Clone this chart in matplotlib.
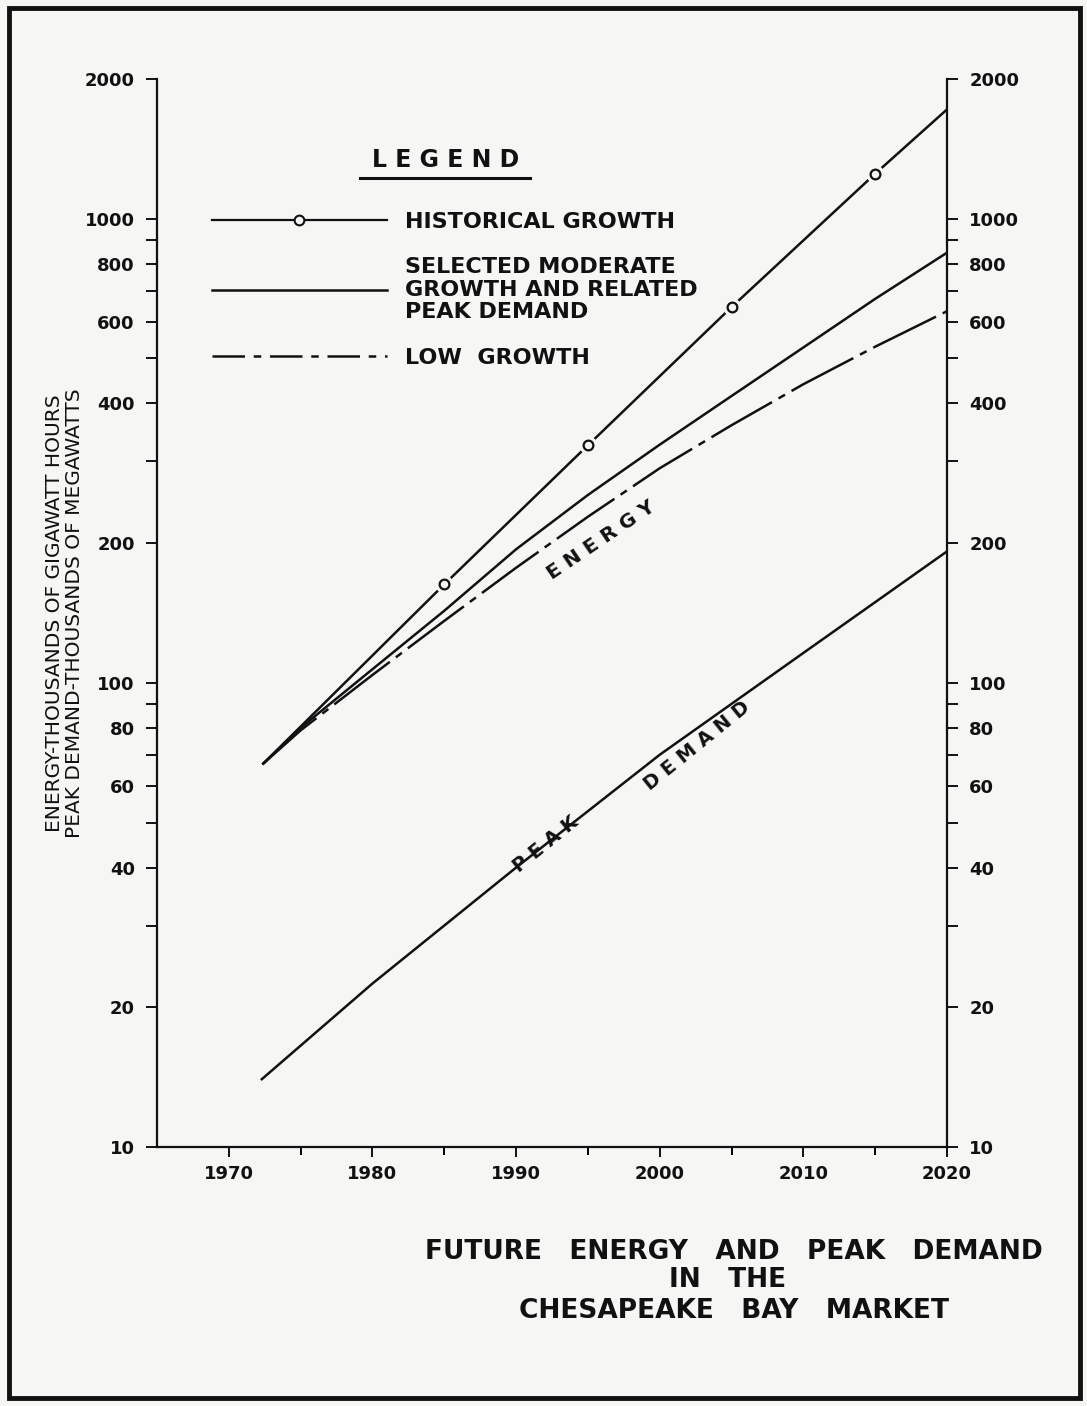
import matplotlib
matplotlib.use("Agg")
import matplotlib.pyplot as plt
from matplotlib.lines import Line2D
from matplotlib.patches import Rectangle

# values (log scale)
hist_years = [1972.4, 1985, 1995, 2005, 2015, 2020]
hist_vals = [67, 163, 325, 645, 1250, 1720]

proj_years = [1972.4, 1975, 1980, 1985, 1990, 1995, 2000, 2005, 2010, 2015, 2020]
moderate_vals = [67, 80, 107, 143, 194, 254, 326, 415, 528, 672, 845]
low_vals = [67, 79, 104, 136, 177, 228, 290, 359, 440, 530, 632]

peak_years = [1972.3, 1980, 1990, 2000, 2010, 2020]
peak_vals = [14, 22.5, 40, 70, 116, 192]

ytick_vals = [10, 20, 30, 40, 50, 60, 70, 80, 90, 100,
              200, 300, 400, 500, 600, 700, 800, 900, 1000, 2000]
ytick_shown = [10, 20, 40, 60, 80, 100, 200, 400, 600, 800, 1000, 2000]
xtick_major = [1970, 1980, 1990, 2000, 2010, 2020]
xtick_minor = [1975, 1985, 1995, 2005, 2015]

plt.rcParams['font.family'] = ['DejaVu Sans']
ink = '#111111'
bg = '#f6f6f4'

fig = plt.figure(figsize=(10.87, 14.06), dpi=100, facecolor=bg)
ax = fig.add_axes([0.1444, 0.1842, 0.7268, 0.7596], facecolor=bg)
ax.set_yscale('log')
ax.set_xlim(1965, 2020)
ax.set_ylim(10, 2000)

lw = 1.8
ax.plot(hist_years, hist_vals, color=ink, lw=lw, zorder=3)
# white halo then hollow circles at the historical points
ax.plot(hist_years[1:5], hist_vals[1:5], 'o', ms=13, mfc=bg, mec='none', zorder=4)
ax.plot(hist_years[1:5], hist_vals[1:5], 'o', ms=7, mfc=bg, mec=ink, mew=1.6, zorder=5)
ax.plot(proj_years, moderate_vals, color=ink, lw=lw, zorder=3)
ax.plot(proj_years, low_vals, color=ink, lw=lw, dashes=(28, 3, 3, 3), zorder=3)
ax.plot(peak_years, peak_vals, color=ink, lw=lw, zorder=3)

# axes styling: open top, ticks outward on both sides
ax.spines['top'].set_visible(False)
for s in ['left', 'right', 'bottom']:
    ax.spines[s].set_linewidth(1.6)
    ax.spines[s].set_color(ink)

ax.set_yticks(ytick_vals)
ax.set_yticklabels([str(v) if v in ytick_shown else '' for v in ytick_vals])
ax.yaxis.set_minor_locator(matplotlib.ticker.NullLocator())
ax.tick_params(axis='y', which='major', direction='out', length=8, width=1.4,
               pad=8, labelsize=13, colors=ink, left=True, right=True,
               labelleft=True, labelright=True)
for t in ax.get_yticklabels():
    t.set_fontweight('bold')

ax.set_xticks(xtick_major)
ax.set_xticks(xtick_minor, minor=True)
ax.tick_params(axis='x', which='major', direction='out', length=7, width=1.4,
               pad=6, labelsize=13, colors=ink)
ax.tick_params(axis='x', which='minor', direction='out', length=6, width=1.4)
for t in ax.get_xticklabels():
    t.set_fontweight('bold')

# y label, two lines
ax.text(-0.117, 0.5, 'ENERGY-THOUSANDS OF GIGAWATT HOURS\nPEAK DEMAND-THOUSANDS OF MEGAWATTS',
        transform=ax.transAxes, rotation=90, ha='center', va='center',
        fontsize=14.5, color=ink, linespacing=1.05)

# legend block
ax.text(0.366, 0.924, 'L E G E N D', transform=ax.transAxes, ha='center', va='center',
        fontsize=17, fontweight='bold', color=ink)
ax.plot([0.257, 0.472], [0.907, 0.907], transform=ax.transAxes, color=ink, lw=2.2,
        clip_on=False)
handles = [
    Line2D([], [], color=ink, lw=1.6, marker='o', ms=7, mfc=bg, mec=ink, mew=1.5),
    Line2D([], [], color=ink, lw=1.8),
    Line2D([], [], color=ink, lw=1.8, dashes=(13, 3.5, 3, 3.5)),
]
labels = ['HISTORICAL GROWTH',
          'SELECTED MODERATE\nGROWTH AND RELATED\nPEAK DEMAND',
          'LOW  GROWTH']
leg = ax.legend(handles, labels, loc='upper left', bbox_to_anchor=(0.058, 0.884),
                frameon=False, handlelength=7.9, handletextpad=0.8,
                labelspacing=1.15, numpoints=1, borderaxespad=0,
                prop={'size': 16, 'weight': 'bold'})
for t in leg.get_texts():
    t.set_linespacing(1.15)
    t.set_color(ink)

# curve annotations
ax.text(1995.9, 203, 'E N E R G Y', rotation=34, ha='center', va='center',
        fontsize=14.5, fontweight='bold', color=ink)
ax.text(1992.1, 45, 'P E A K', rotation=39, ha='center', va='center',
        fontsize=14, fontweight='bold', color=ink)
ax.text(2002.6, 73, 'D E M A N D', rotation=39, ha='center', va='center',
        fontsize=14, fontweight='bold', color=ink)

# caption
fig.text(0.675, 0.1095, 'FUTURE   ENERGY   AND   PEAK   DEMAND', ha='center', va='center',
         fontsize=19, fontweight='bold', color=ink)
fig.text(0.669, 0.0895, 'IN   THE', ha='center', va='center',
         fontsize=19, fontweight='bold', color=ink)
fig.text(0.675, 0.0675, 'CHESAPEAKE   BAY   MARKET', ha='center', va='center',
         fontsize=19, fontweight='bold', color=ink)

# scanned-page border
fig.patches.append(Rectangle((0.008, 0.006), 0.986, 0.988, transform=fig.transFigure,
                             fill=False, ec=ink, lw=3.5))

fig.savefig('out.png', dpi=100, facecolor=bg)
